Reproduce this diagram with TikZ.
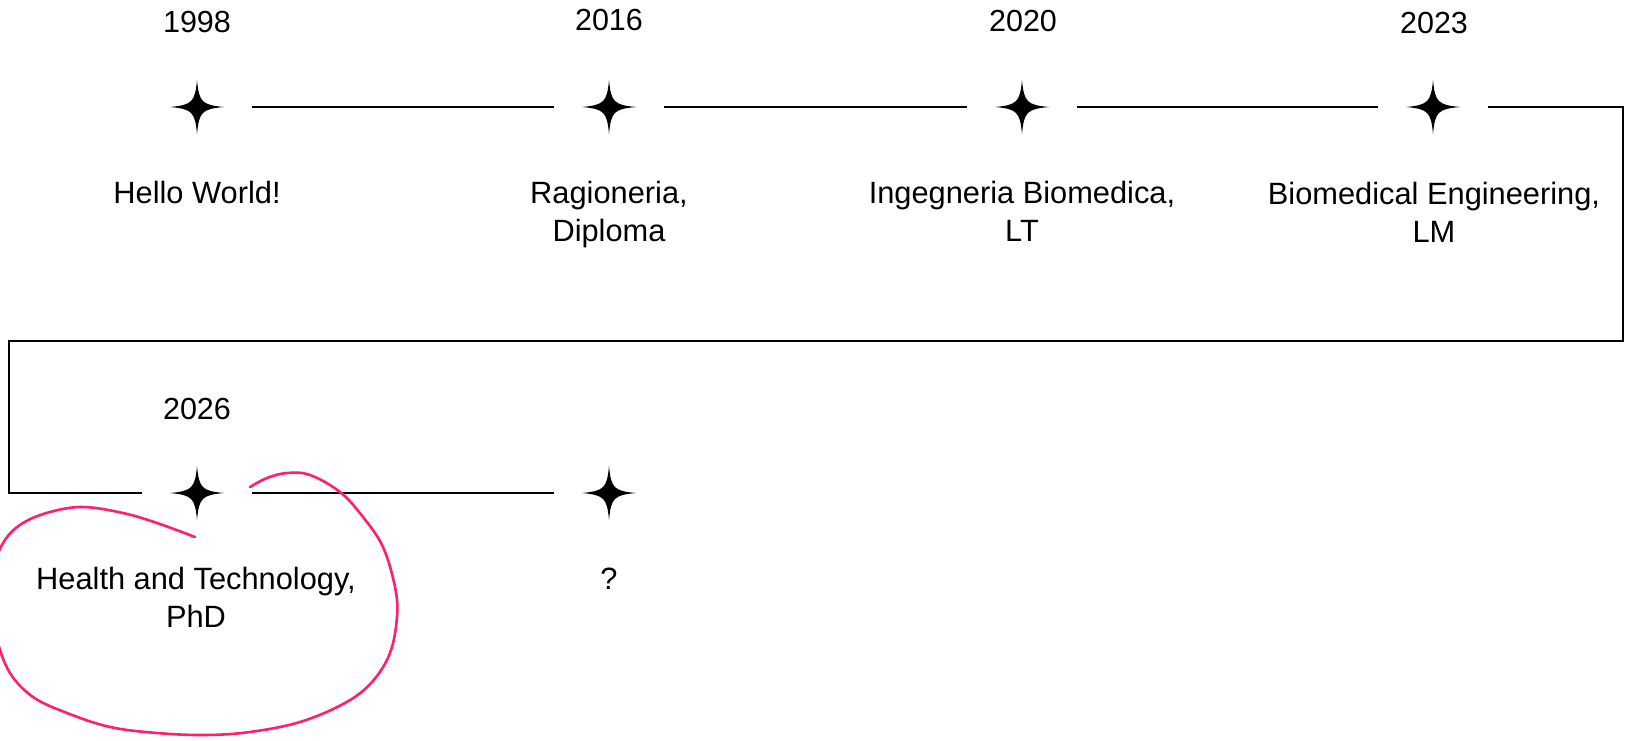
\documentclass[tikz,border=0pt]{standalone}
\usepackage{fontspec}
\setmainfont{Liberation Sans}
\definecolor{pinkline}{HTML}{FF1F6D}
\tikzset{
  sparkle/.style={minimum width=110pt, minimum height=54pt, inner sep=0pt, outer sep=0pt},
  yearlbl/.style={anchor=base, inner sep=0pt, font=\fontsize{30.5}{38}\selectfont},
  desclbl/.style={anchor=base, inner sep=0pt, align=center, font=\fontsize{30.8}{38}\selectfont},
  tline/.style={line width=1.8pt, black},
}
\begin{document}
\begin{tikzpicture}[x=1pt, y=-1pt]
\useasboundingbox (0,0) rectangle (1633,741);
% star nodes
\node[sparkle] (s1) at (197,107) {};
\node[sparkle] (s2) at (609,107) {};
\node[sparkle] (s3) at (1022,107) {};
\node[sparkle] (s4) at (1433,107) {};
\node[sparkle] (s5) at (197,493) {};
\node[sparkle] (s6) at (609,493) {};
\foreach \s in {s1,s2,s3,s4,s5,s6}{
  \fill[black, shift={(\s.center)}] (27,0) .. controls (5,2) and (2,5) .. (0,27)
     .. controls (-2,5) and (-5,2) .. (-27,0)
     .. controls (-5,-2) and (-2,-5) .. (0,-27)
     .. controls (2,-5) and (5,-2) .. (27,0) -- cycle;
}
% years
\node[yearlbl] (y1) at (197,33) {1998};
\node[yearlbl] (y2) at (609,31) {2016};
\node[yearlbl] (y3) at (1023,32) {2020};
\node[yearlbl] (y4) at (1434,34) {2023};
\node[yearlbl] (y5) at (197,419) {2026};
% descriptions (base = baseline of last line)
\node[desclbl] (d1) at (197,203) {Hello World!};
\node[desclbl] (d2) at (609,241) {Ragioneria,\\Diploma};
\node[desclbl] (d3) at (1022,241) {Ingegneria Biomedica,\\LT};
\node[desclbl] (d4) at (1434,242) {Biomedical Engineering,\\LM};
\node[desclbl] (d5) at (196,627) {Health and Technology,\\PhD};
\node[desclbl] (d6) at (609,589) {?};
% connectors
\coordinate (rt) at (1623,341);
\coordinate (lt) at (9,341);
\draw[tline] (s1.east) -- (s2.west);
\draw[tline] (s2.east) -- (s3.west);
\draw[tline] (s3.east) -- (s4.west);
\draw[tline] (s4.east) -| (rt) -- (lt) |- (s5.west);
\draw[tline] (s5.east) -- (s6.west);
% pink hand-drawn circle
\begin{scope}
\clip (0,0) rectangle (1633,741);
\draw[pinkline, line width=2.6pt, line cap=round, line join=round]
  plot[smooth, tension=0.6] coordinates {(195,537) (157,523) (123,513) (83,507) (50,512) (23,523) (5,540) (-8,570) (-10,605) (-3,640) (10,673) (33,697) (67,713) (110,727) (157,733) (205,735) (250,732) (300,722) (345,703) (372,682) (390,653) (397,617) (395,587) (383,547) (363,517) (340,492) (310,475) (287,473) (267,478) (250,487)};
\end{scope}
\end{tikzpicture}
\end{document}
